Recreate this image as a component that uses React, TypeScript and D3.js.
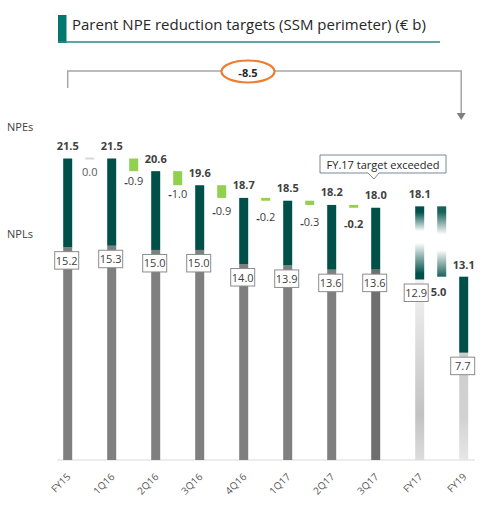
import * as d3 from 'd3'

const categories = ['FY15', '1Q16', '2Q16', '3Q16', '4Q16', '1Q17', '2Q17', '3Q17', 'FY17', 'FY19']
const npeTotals = [21.5, 21.5, 20.6, 19.6, 18.7, 18.5, 18.2, 18.0, 18.1, 13.1]
const nplValues = [15.2, 15.3, 15.0, 15.0, 14.0, 13.9, 13.6, 13.6, 12.9, 7.7]
// quarter on quarter change of NPEs, 1Q16 .. 3Q17
const quarterDeltas = [0.0, -0.9, -1.0, -0.9, -0.2, -0.3, -0.2]
const fy19Reduction = 5.0
const totalReduction = -8.5
const titleText = 'Parent NPE reduction targets (SSM perimeter) (€ b)'
const calloutText = 'FY.17 target exceeded'

const TEAL = '#00504a'
const GREEN = '#92d050'
const GREY = '#7f7f7f'
const TXT = '#404040'
const FONT = '"Open Sans", sans-serif'

const BAR_W = 9
const BASE = 460

// plain hyphen for the minus, like the slide
const fmt = d3.formatLocale({ decimal: '.', thousands: ',', grouping: [3], currency: ['', ''], minus: '-' }).format('.1f')

export default function App() {
    const x = d3.scalePoint<string>().domain(categories).range([67.7, 463.7])
    const y = d3.scaleLinear().domain([0, 21.5]).range([461, 158.5])
    const cx = (i: number) => x(categories[i]) as number

    // small nudges for the delta labels below their bars
    const deltaDy = [13, 9.5, 8, 13, 16, 17, 16]
    const quarterCount = 8

    return (
        <svg
            width={496}
            height={511}
            style={{ position: 'absolute', left: 0, top: 0, background: '#fff' }}
            fontFamily={FONT}
        >
            <defs>
                <linearGradient id='fadeTeal' x1='0' y1='0' x2='0' y2='1'>
                    <stop offset='0' stopColor={TEAL} />
                    <stop offset='0.08' stopColor={TEAL} />
                    <stop offset='0.34' stopColor='#ffffff' />
                    <stop offset='0.5' stopColor='#ffffff' />
                    <stop offset='0.92' stopColor={TEAL} />
                    <stop offset='1' stopColor={TEAL} />
                </linearGradient>
                <linearGradient id='fadeTeal2' x1='0' y1='0' x2='0' y2='1'>
                    <stop offset='0' stopColor='#1a615b' />
                    <stop offset='0.08' stopColor='#1a615b' />
                    <stop offset='0.4' stopColor='#ffffff' />
                    <stop offset='0.62' stopColor='#ffffff' />
                    <stop offset='1' stopColor='#1a615b' />
                </linearGradient>
                <linearGradient id='greyFY17' x1='0' y1='0' x2='0' y2='1'>
                    <stop offset='0' stopColor='#f4f4f4' />
                    <stop offset='0.75' stopColor='#c2c2c2' />
                    <stop offset='1' stopColor='#dcdcdc' />
                </linearGradient>
                <linearGradient id='greyFY19' x1='0' y1='0' x2='0' y2='1'>
                    <stop offset='0' stopColor='#cdcdcd' />
                    <stop offset='0.6' stopColor='#d2d2d2' />
                    <stop offset='1' stopColor='#e6e6e6' />
                </linearGradient>
            </defs>

            {/* title */}
            <rect x={58} y={15} width={8.5} height={28} fill='#00786e' />
            <line x1={58} x2={440} y1={42} y2={42} stroke='#2a8a82' strokeWidth={1.5} />
            <text x={72} y={30} fontSize={15} fill='#262626'>
                {titleText}
            </text>

            {/* total reduction bracket */}
            <path
                d={`M${cx(0)},88 V71 H${cx(9) - 2.5} V116`}
                fill='none'
                stroke='#a6a6a6'
                strokeWidth={1.5}
            />
            <path
                d={`M${cx(9) - 7},113 L${cx(9) + 2},113 L${cx(9) - 2.5},120 Z`}
                fill='#7f7f7f'
            />
            <ellipse cx={248} cy={71.5} rx={26.5} ry={11} fill='#fff' stroke='#ed7d31' strokeWidth={2.2} />
            <text x={248} y={72} fontSize={11} fontWeight='bold' textAnchor='middle' dominantBaseline='central' fill='#262626'>
                {fmt(totalReduction)}
            </text>

            {/* side labels */}
            <text x={7} y={126} fontSize={11} fill={TXT} dominantBaseline='central'>NPEs</text>
            <text x={7} y={233} fontSize={11} fill={TXT} dominantBaseline='central'>NPLs</text>

            {/* axis */}
            <line x1={57} x2={475} y1={BASE} y2={BASE} stroke='#d9d9d9' strokeWidth={1} />

            {/* quarterly bars */}
            {categories.slice(0, quarterCount).map((c, i) => (
                <g key={c}>
                    <rect
                        x={cx(i) - BAR_W / 2}
                        y={y(nplValues[i])}
                        width={BAR_W}
                        height={BASE - y(nplValues[i])}
                        fill={i === 7 ? '#6f6f6f' : GREY}
                    />
                    <rect
                        x={cx(i) - BAR_W / 2}
                        y={y(npeTotals[i])}
                        width={BAR_W}
                        height={y(nplValues[i]) - y(npeTotals[i])}
                        fill={TEAL}
                    />
                </g>
            ))}

            {/* FY17 target bar */}
            <rect
                x={cx(8) - BAR_W / 2}
                y={y(nplValues[8])}
                width={BAR_W}
                height={BASE - y(nplValues[8])}
                fill='url(#greyFY17)'
            />
            <rect
                x={cx(8) - BAR_W / 2}
                y={y(npeTotals[8])}
                width={BAR_W}
                height={y(nplValues[8]) - y(npeTotals[8])}
                fill='url(#fadeTeal)'
            />
            {/* FY17 -> FY19 step */}
            <rect
                x={(cx(8) + cx(9)) / 2 - BAR_W / 2}
                y={y(npeTotals[8])}
                width={BAR_W}
                height={y(npeTotals[8] - fy19Reduction) - y(npeTotals[8])}
                fill='url(#fadeTeal2)'
            />
            {/* FY19 target bar */}
            <rect
                x={cx(9) - BAR_W / 2}
                y={y(nplValues[9])}
                width={BAR_W}
                height={BASE - y(nplValues[9])}
                fill='url(#greyFY19)'
            />
            <rect
                x={cx(9) - BAR_W / 2}
                y={y(npeTotals[9])}
                width={BAR_W}
                height={y(nplValues[9]) - y(npeTotals[9])}
                fill={TEAL}
            />

            {/* deltas between quarters */}
            {quarterDeltas.map((d, i) => {
                const mx = (cx(i) + cx(i + 1)) / 2
                const top = y(npeTotals[i])
                const bottom = y(npeTotals[i] + d)
                const zero = d === 0
                const fullBold = i === quarterDeltas.length - 1
                const s = fmt(d)
                return (
                    <g key={'d' + i}>
                        <rect
                            x={mx - BAR_W / 2}
                            y={zero ? top - 1 : top}
                            width={BAR_W}
                            height={zero ? 2 : bottom - top}
                            fill={zero ? '#d9d9d9' : GREEN}
                        />
                        <text
                            x={mx}
                            y={bottom + deltaDy[i]}
                            fontSize={11}
                            textAnchor='middle'
                            dominantBaseline='central'
                            fill={zero ? '#595959' : TXT}
                            fontWeight={fullBold ? 'bold' : 'normal'}
                        >
                            {s.startsWith('-') ? (
                                <>
                                    <tspan fontWeight='bold'>-</tspan>
                                    {s.slice(1)}
                                </>
                            ) : (
                                s
                            )}
                        </text>
                    </g>
                )
            })}

            {/* total labels */}
            {categories.map((c, i) => (
                <text
                    key={'t' + c}
                    x={cx(i)}
                    y={y(npeTotals[i]) - (i === 9 ? 12 : 13)}
                    fontSize={11}
                    fontWeight='bold'
                    textAnchor='middle'
                    dominantBaseline='central'
                    fill={TXT}
                >
                    {fmt(npeTotals[i])}
                </text>
            ))}

            {/* NPL boxes */}
            {categories.map((c, i) => {
                const bx = i === 8 ? cx(i) - 3.5 : cx(i) - 1
                const by = y(nplValues[i]) + 13
                return (
                    <g key={'n' + c}>
                        <rect
                            x={bx - 12}
                            y={by - 8.5}
                            width={24}
                            height={17.5}
                            fill='#fff'
                            stroke='#8c8c8c'
                            strokeWidth={1}
                        />
                        <text
                            x={bx}
                            y={by}
                            fontSize={11}
                            textAnchor='middle'
                            dominantBaseline='central'
                            fill={TXT}
                        >
                            {fmt(nplValues[i])}
                        </text>
                    </g>
                )
            })}

            {/* FY17 -> FY19 label */}
            <text
                x={438.5}
                y={y(nplValues[8]) + 12}
                fontSize={11}
                fontWeight='bold'
                textAnchor='middle'
                dominantBaseline='central'
                fill={TXT}
            >
                {fmt(fy19Reduction)}
            </text>

            {/* callout */}
            <path
                d='M320,155 H446 V173 H379 L374,179 L368,173 H320 Z'
                fill='#fff'
                stroke='#7b8796'
                strokeWidth={1}
            />
            <text x={383} y={164} fontSize={11} textAnchor='middle' dominantBaseline='central' fill='#262626'>
                {calloutText}
            </text>

            {/* x tick labels */}
            {categories.map((c, i) => (
                <text
                    key={'x' + c}
                    transform={`translate(${cx(i) + 3.5},${BASE + 17.5}) rotate(-45)`}
                    fontSize={10}
                    textAnchor='end'
                    fill='#595959'
                >
                    {c}
                </text>
            ))}
        </svg>
    )
}
